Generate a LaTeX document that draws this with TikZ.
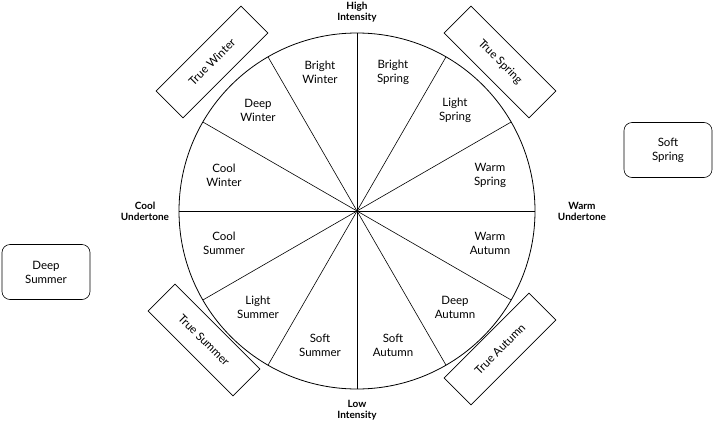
\documentclass[tikz,border=0pt]{standalone}
\usepackage{fontspec}
\setmainfont{Lato}
\usetikzlibrary{calc}
\begin{document}
\begin{tikzpicture}[x=1pt,y=-1pt,
  lab/.style={align=center,font=\fontsize{11.5}{14}\selectfont},
  axis/.style={align=center,font=\bfseries\fontsize{10}{11}\selectfont},
  rbox/.style={draw,semithick,minimum width=120pt,minimum height=38pt,lab},
  sbox/.style={draw,semithick,rounded corners=8pt,minimum width=88pt,minimum height=55pt,lab}]
\useasboundingbox (0,0) rectangle (714,423);
\coordinate (c) at (357,211);
\draw[thick] (c) circle (178pt);
\foreach \a in {0,30,...,150}
  \draw[semithick] ($(c)+(\a:178pt)$) -- ($(c)+(\a+180:178pt)$);
\node[lab] (bw) at (320,72) {Bright\\Winter};
\node[lab] (bs) at (393,72) {Bright\\Spring};
\node[lab] (dw) at (258,110) {Deep\\Winter};
\node[lab] (ls) at (455,110) {Light\\Spring};
\node[lab] (cw) at (224,175) {Cool\\Winter};
\node[lab] (ws) at (490,175) {Warm\\Spring};
\node[lab] (cs) at (224,243) {Cool\\Summer};
\node[lab] (wa) at (490,243) {Warm\\Autumn};
\node[lab] (lsu) at (258,307) {Light\\Summer};
\node[lab] (da) at (455,307) {Deep\\Autumn};
\node[lab] (ssu) at (320,345) {Soft\\Summer};
\node[lab] (sa) at (393,345) {Soft\\Autumn};
\node[axis] (hi) at (357,12) {High\\Intensity};
\node[axis] (lo) at (357,410) {Low\\Intensity};
\node[axis] (cu) at (145,211) {Cool\\Undertone};
\node[axis] (wu) at (582,211) {Warm\\Undertone};
\node[rbox,rotate=45] (tw) at (212,62) {True Winter};
\node[rbox,rotate=-45] (tsp) at (500,62) {True Spring};
\node[rbox,rotate=-45] (tsu) at (204,340) {True Summer};
\node[rbox,rotate=45] (ta) at (500,349) {True Autumn};
\node[sbox] (ssp) at (668,150) {Soft\\Spring};
\node[sbox] (dsu) at (46,272) {Deep\\Summer};
\end{tikzpicture}
\end{document}
